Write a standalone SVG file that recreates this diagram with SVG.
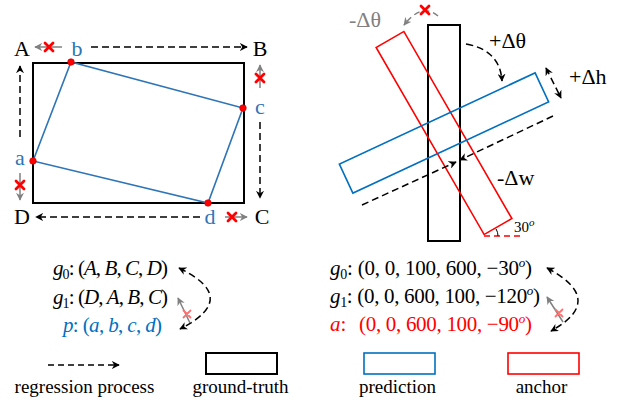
<svg xmlns="http://www.w3.org/2000/svg" width="621" height="402" viewBox="0 0 621 402">
<style>
.lbl{font-family:"Liberation Serif","Times New Roman",serif;font-size:22px;fill:#000}
.blue{fill:#2E75B6}
.gray{fill:#808080}
.math{font-family:"Liberation Serif","Times New Roman",serif;font-size:21px;fill:#000}
.it{font-style:italic}
.dash{fill:none;stroke:#000;stroke-width:1.5;stroke-dasharray:7 4}
.garr{fill:none;stroke:#808080;stroke-width:1.5}
.gdash{fill:none;stroke:#808080;stroke-width:1.5;stroke-dasharray:6 4}
.rx{fill:none;stroke:#FF0000;stroke-width:2.8;stroke-linecap:round}
.px{fill:none;stroke:#FF7070;stroke-width:1.8;stroke-linecap:round}
.leg{font-family:"Liberation Serif","Times New Roman",serif;font-size:19px;fill:#000;text-anchor:middle}
</style>
<defs>
<marker id="ah" viewBox="0 0 10 10" refX="9" refY="5" markerWidth="8" markerHeight="8" markerUnits="userSpaceOnUse" orient="auto-start-reverse"><path d="M0,0 L10,5 L0,10 L3,5 z" fill="#000"/></marker>
<marker id="ahg" viewBox="0 0 10 10" refX="9" refY="5" markerWidth="8" markerHeight="8" markerUnits="userSpaceOnUse" orient="auto-start-reverse"><path d="M0,0 L10,5 L0,10 L3,5 z" fill="#808080"/></marker>
<path id="xm" d="M-4,-4 L4,4 M4,-4 L-4,4"/>
<path id="xs" d="M-3.5,-3.5 L3.5,3.5 M3.5,-3.5 L-3.5,3.5"/>
</defs>

<!-- Left panel -->
<g id="gt-left"><rect x="33" y="63" width="211" height="140" fill="none" stroke="#000" stroke-width="2"/></g>
<g id="pred-left"><polygon points="33,161 71,62 243,108 208,203" fill="none" stroke="#2E75B6" stroke-width="1.6"/>
<g fill="#FF0000" stroke="#C00000" stroke-width="0.6"><circle cx="33" cy="161" r="3.3"/><circle cx="71" cy="62" r="3.3"/><circle cx="243" cy="108" r="3.3"/><circle cx="208" cy="203" r="3.3"/></g></g>
<g id="labels-left">
<text class="lbl" x="22" y="56" text-anchor="middle">A</text>
<text class="lbl blue" x="77" y="56" text-anchor="middle">b</text>
<text class="lbl" x="260" y="56" text-anchor="middle">B</text>
<text class="lbl blue" x="260" y="114" text-anchor="middle">c</text>
<text class="lbl blue" x="20" y="165" text-anchor="middle">a</text>
<text class="lbl" x="22" y="224" text-anchor="middle">D</text>
<text class="lbl blue" x="210" y="224" text-anchor="middle">d</text>
<text class="lbl" x="262" y="224" text-anchor="middle">C</text>
</g>
<g id="connectors-left">
<line class="dash" x1="91" y1="47" x2="247" y2="47" marker-end="url(#ah)"/>
<line class="dash" x1="20" y1="137" x2="20" y2="66" marker-end="url(#ah)"/>
<line class="dash" x1="260" y1="122" x2="260" y2="198" marker-end="url(#ah)"/>
<line class="dash" x1="200" y1="217" x2="36" y2="217" marker-end="url(#ah)"/>
<line class="garr" x1="62" y1="47" x2="35" y2="47" marker-end="url(#ahg)"/>
<line class="garr" x1="260" y1="88" x2="260" y2="65" marker-end="url(#ahg)"/>
<line class="garr" x1="20" y1="173" x2="20" y2="200" marker-end="url(#ahg)"/>
<line class="garr" x1="225" y1="217" x2="247" y2="217" marker-end="url(#ahg)"/>
<use href="#xm" class="rx" x="49" y="47"/>
<use href="#xm" class="rx" x="260" y="78"/>
<use href="#xm" class="rx" x="20" y="185"/>
<use href="#xm" class="rx" x="232" y="217"/>
</g>

<!-- Right panel -->
<g id="gt-right"><rect x="428" y="25" width="32" height="216" fill="none" stroke="#000" stroke-width="2"/></g>
<g id="anchor-right"><rect x="428" y="25" width="32" height="216" fill="none" stroke="#FF0000" stroke-width="1.6" transform="rotate(-30 444 133)"/></g>
<g id="pred-right"><rect x="336" y="117" width="216" height="32" fill="none" stroke="#0070C0" stroke-width="1.6" transform="rotate(-25 444 133)"/></g>
<g id="connectors-right">
<path class="dash" d="M466,44 Q500,50 502,81" marker-end="url(#ah)"/>
<line class="dash" x1="546" y1="68" x2="561" y2="98" marker-start="url(#ah)" marker-end="url(#ah)"/>
<line class="dash" x1="362" y1="205" x2="456" y2="162" marker-end="url(#ah)"/>
<line class="dash" x1="553" y1="116" x2="460" y2="160" marker-end="url(#ah)"/>
<path class="gdash" d="M438,16 Q422,2 404,25" marker-end="url(#ahg)"/>
<use href="#xm" class="rx" x="425" y="10"/>
<line x1="484" y1="236" x2="522" y2="236" stroke="#FF0000" stroke-width="1.6" stroke-dasharray="6 4"/>
<path d="M498,236 A14,14 0 0 0 496.1,229" fill="none" stroke="#000" stroke-width="1"/>
</g>
<g id="labels-right">
<text class="lbl gray" x="349" y="27">-Δθ</text>
<text class="lbl" x="489" y="48">+Δθ</text>
<text class="lbl" x="569" y="84">+Δh</text>
<text class="lbl" x="497" y="185">-Δw</text>
<text x="514" y="232" style="font-family:'Liberation Serif',serif;font-size:15px">30<tspan font-style="italic" font-size="11" dy="-6">o</tspan></text>
</g>

<!-- Formulas left -->
<g id="formula-left">
<text class="math" x="53" y="275" textLength="115" lengthAdjust="spacing"><tspan class="it">g</tspan><tspan font-size="14" dy="4">0</tspan><tspan dy="-4">: (</tspan><tspan class="it">A</tspan>, <tspan class="it">B</tspan>, <tspan class="it">C</tspan>, <tspan class="it">D</tspan>)</text>
<text class="math" x="53" y="304" textLength="115" lengthAdjust="spacing"><tspan class="it">g</tspan><tspan font-size="14" dy="4">1</tspan><tspan dy="-4">: (</tspan><tspan class="it">D</tspan>, <tspan class="it">A</tspan>, <tspan class="it">B</tspan>, <tspan class="it">C</tspan>)</text>
<text class="math" x="63" y="332" textLength="99" lengthAdjust="spacing" style="fill:#0070C0"><tspan class="it">p</tspan>: (<tspan class="it">a</tspan>, <tspan class="it">b</tspan>, <tspan class="it">c</tspan>, <tspan class="it">d</tspan>)</text>
<path class="dash" d="M179,268 Q241,298 180,329" marker-start="url(#ah)" marker-end="url(#ah)"/>
<line class="garr" x1="190" y1="323" x2="178" y2="298" marker-end="url(#ahg)"/>
<use href="#xs" class="px" x="187" y="314"/>
</g>

<!-- Formulas right -->
<g id="formula-right">
<text class="math" x="330" y="275" textLength="202" lengthAdjust="spacing"><tspan class="it">g</tspan><tspan font-size="14" dy="4">0</tspan><tspan dy="-4">: (0, 0, 100, 600, −30</tspan><tspan class="it" font-size="13" dy="-8">o</tspan><tspan dy="8">)</tspan></text>
<text class="math" x="330" y="303" textLength="210" lengthAdjust="spacing"><tspan class="it">g</tspan><tspan font-size="14" dy="4">1</tspan><tspan dy="-4">: (0, 0, 600, 100, −120</tspan><tspan class="it" font-size="13" dy="-8">o</tspan><tspan dy="8">)</tspan></text>
<text class="math" x="330" y="331" style="fill:#FF0000"><tspan class="it">a</tspan>:</text>
<text class="math" x="359" y="331" textLength="173" lengthAdjust="spacing" style="fill:#FF0000">(0, 0, 600, 100, −90<tspan class="it" font-size="13" dy="-8">o</tspan><tspan dy="8">)</tspan></text>
<path class="dash" d="M547,268 Q607,300 551,331" marker-start="url(#ah)" marker-end="url(#ah)"/>
<line class="garr" x1="563" y1="322" x2="547" y2="297" marker-end="url(#ahg)"/>
<use href="#xs" class="px" x="559" y="313"/>
</g>

<!-- Legend -->
<g id="legend">
<line x1="48" y1="365" x2="119" y2="365" stroke="#000" stroke-width="1.5" stroke-dasharray="6 4" marker-end="url(#ah)"/>
<rect x="206" y="353" width="71" height="21" fill="none" stroke="#000" stroke-width="2"/>
<rect x="364" y="353" width="71" height="21" fill="none" stroke="#0070C0" stroke-width="1.6"/>
<rect x="508" y="353" width="71" height="21" fill="none" stroke="#FF0000" stroke-width="1.6"/>
<text class="leg" x="84.5" y="393">regression process</text>
<text class="leg" x="240.5" y="393">ground-truth</text>
<text class="leg" x="397.5" y="393">prediction</text>
<text class="leg" x="541.5" y="393">anchor</text>
</g>
</svg>
